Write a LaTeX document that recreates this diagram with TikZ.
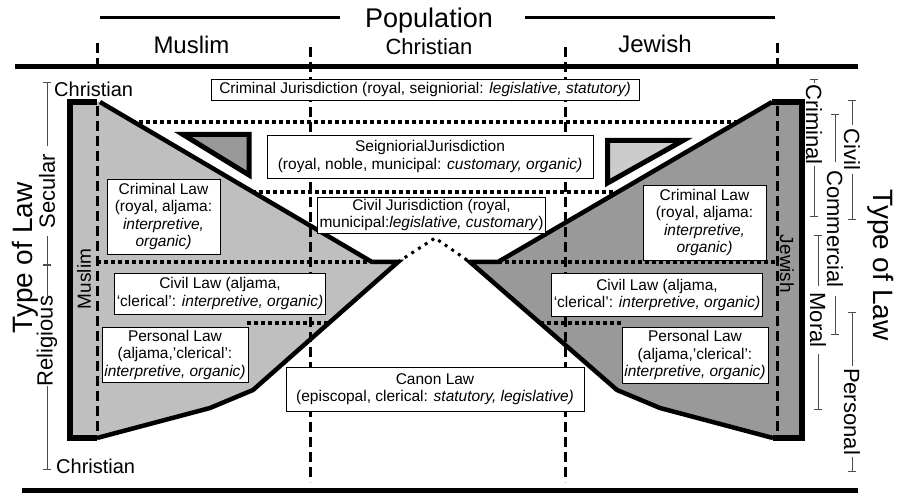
\documentclass[tikz,border=0pt]{standalone}
\usepackage{fontspec}
\setmainfont{Liberation Sans}
\usetikzlibrary{arrows.meta}

\begin{document}
\begin{tikzpicture}[
  x=1pt, y=-1pt,
  lawbox/.style={draw, fill=white, line width=0.9pt, align=center, inner xsep=2pt, inner ysep=1pt, font=\fontsize{15.5}{17.5}\selectfont},
  colhead/.style={anchor=base, font=\fontsize{24}{28}\selectfont},
  sidelabel/.style={inner sep=0pt, font=\fontsize{22}{24}\selectfont},
  typelabel/.style={inner sep=0pt, font=\fontsize{28}{30}\selectfont},
  grouplabel/.style={inner sep=0pt, font=\fontsize{19}{21}\selectfont},
  colline/.style={line width=3pt, dash pattern=on 10pt off 5pt},
  divline/.style={line width=3.5pt, dash pattern=on 3.5pt off 3.5pt},
  peakline/.style={line width=3pt, dash pattern=on 3pt off 5pt},
  rim/.style={line width=5.5pt, line join=miter},
  slope/.style={line width=4.5pt, line join=miter},
  tri/.style={line width=5pt, line join=miter, miter limit=20},
  rule/.style={line width=5pt},
  span/.style={line width=0.8pt, draw=black!70}
]
\useasboundingbox (0,0) rectangle (900,494);

% grey law areas
\fill[gray!50] (70,102) -- (99,102) -- (372,262) -- (398,262) -- (253,390) -- (210,408) -- (97,438) -- (70,438) -- cycle;
\fill[gray!80] (802,102) -- (772,102) -- (498,262) -- (470,262) -- (617,390) -- (660,408) -- (773,438) -- (802,438) -- cycle;

% population columns
\foreach \x/\ya/\yb in {97/43/66, 97/106/437, 310/47/482, 565/47/482, 777/43/66, 777/106/437}
  \draw[colline] (\x,\ya) -- (\x,\yb);

% jurisdiction dividers
\draw[divline] (132,122) -- (739,122);
\draw[divline] (252,192) -- (619,192);
\draw[divline] (97,262) -- (372,262);
\draw[divline] (498,262) -- (775,262);
\draw[divline] (247,323) -- (329,323);
\draw[divline] (540,323) -- (622,323);
\draw[peakline] (398,262) -- (435,238) -- (470,262);

% outlines
\draw[rim] (97,102) -- (70,102) -- (70,438) -- (97,438);
\draw[slope] (100,102) -- (372,262) -- (398,262) -- (253,390) -- (210,408) -- (97,438);
\draw[rim] (772,102) -- (802,102) -- (802,438) -- (773,438);
\draw[slope] (772,102) -- (498,262) -- (470,262) -- (617,390) -- (660,408) -- (773,438);

\draw[tri, fill=gray!80] (183,134.5) -- (249,134.5) -- (249,175) -- cycle;
\draw[tri, fill=gray!40] (607.5,140.5) -- (683,140.5) -- (607.5,183) -- cycle;

% top and bottom rules
\draw[rule] (15,67) -- (858,67);
\draw[rule] (22,490) -- (858,490);

% population header
\node[anchor=base, font=\fontsize{27}{30}\selectfont] (pop) at (429,28) {Population};
\draw[line width=3pt] (100,18) -- (340,18);
\draw[line width=3pt] (525,18) -- (775,18);
\node[colhead] (muslimcol) at (191.5,54) {Muslim};
\node[colhead, font=\fontsize{22}{26}\selectfont] (christiancol) at (429,55) {Christian};
\node[colhead] (jewishcol) at (655,53) {Jewish};

% law boxes
\node[lawbox, minimum width=428, minimum height=21] (critjur) at (425,89.5)
  {Criminal Jurisdiction (royal, seigniorial: \textit{legislative, statutory)}};
\node[lawbox, minimum width=326, minimum height=43] (seigjur) at (430,156.5)
  {SeigniorialJurisdiction\\(royal, noble, municipal: \textit{customary, organic)}};
\node[lawbox, minimum width=227, minimum height=36] (civjur) at (431.5,215)
  {Civil Jurisdiction (royal,\\municipal:\textit{legislative, customary})};
\node[lawbox, minimum width=298, minimum height=44] (canon) at (435,389)
  {Canon Law\\(episcopal, clerical: \textit{statutory, legislative)}};
\node[lawbox, minimum width=113, minimum height=75] (lcrim) at (163.5,216.5)
  {Criminal Law\\(royal, aljama:\\\textit{interpretive,}\\\textit{organic)}};
\node[lawbox, minimum width=206, minimum height=41] (lciv) at (220,293.5)
  {Civil Law (aljama,\\`clerical': \textit{interpretive, organic)}};
\node[lawbox, minimum width=146, minimum height=55] (lpers) at (175,354.5)
  {Personal Law\\(aljama,'clerical':\\\textit{interpretive, organic)}};
\node[lawbox, minimum width=123, minimum height=75] (rcrim) at (704.5,222.5)
  {Criminal Law\\(royal, aljama:\\\textit{interpretive,}\\\textit{organic)}};
\node[lawbox, minimum width=210, minimum height=43] (rciv) at (657,295)
  {Civil Law (aljama,\\`clerical': \textit{interpretive, organic)}};
\node[lawbox, minimum width=146, minimum height=56] (rpers) at (695,355)
  {Personal Law\\(aljama,'clerical':\\\textit{interpretive, organic)}};

% group labels
\node[grouplabel, rotate=90] (muslimrow) at (84,279) {Muslim};
\node[grouplabel, rotate=-90] (jewishrow) at (787,264) {Jewish};

% type of law spans
\foreach \x/\ya/\yb/\yc/\yd/\rot/\txt in {
    47/82/146/236/265/90/Secular,
    47/265/296/386/470/90/Religious,
    814/79/83/166/217/-90/Criminal,
    818/235/286/354/410/-90/Moral,
    835/114/162/296/335/-90/Commercial,
    852/100/125/174/220/-90/Civil,
    852/312/366/457/472/-90/Personal} {
  \draw[span, {Bar[width=8pt]}-] (\x,\ya) -- (\x,\yb);
  \draw[span, -{Bar[width=8pt]}] (\x,\yc) -- (\x,\yd);
  \node[sidelabel, rotate=\rot] (span-\txt) at (\x,{(\yb+\yc)/2}) {\txt};
}
\node[anchor=base west, inner sep=0pt, font=\fontsize{20}{22}\selectfont] (christtop) at (54,97) {Christian};
\node[anchor=base west, inner sep=0pt, font=\fontsize{20}{22}\selectfont] (christbot) at (56,473) {Christian};
\node[typelabel, rotate=90] (typeleft) at (25,258) {Type of Law};
\node[typelabel, rotate=-90] (typeright) at (881,265) {Type of Law};
\end{tikzpicture}
\end{document}
